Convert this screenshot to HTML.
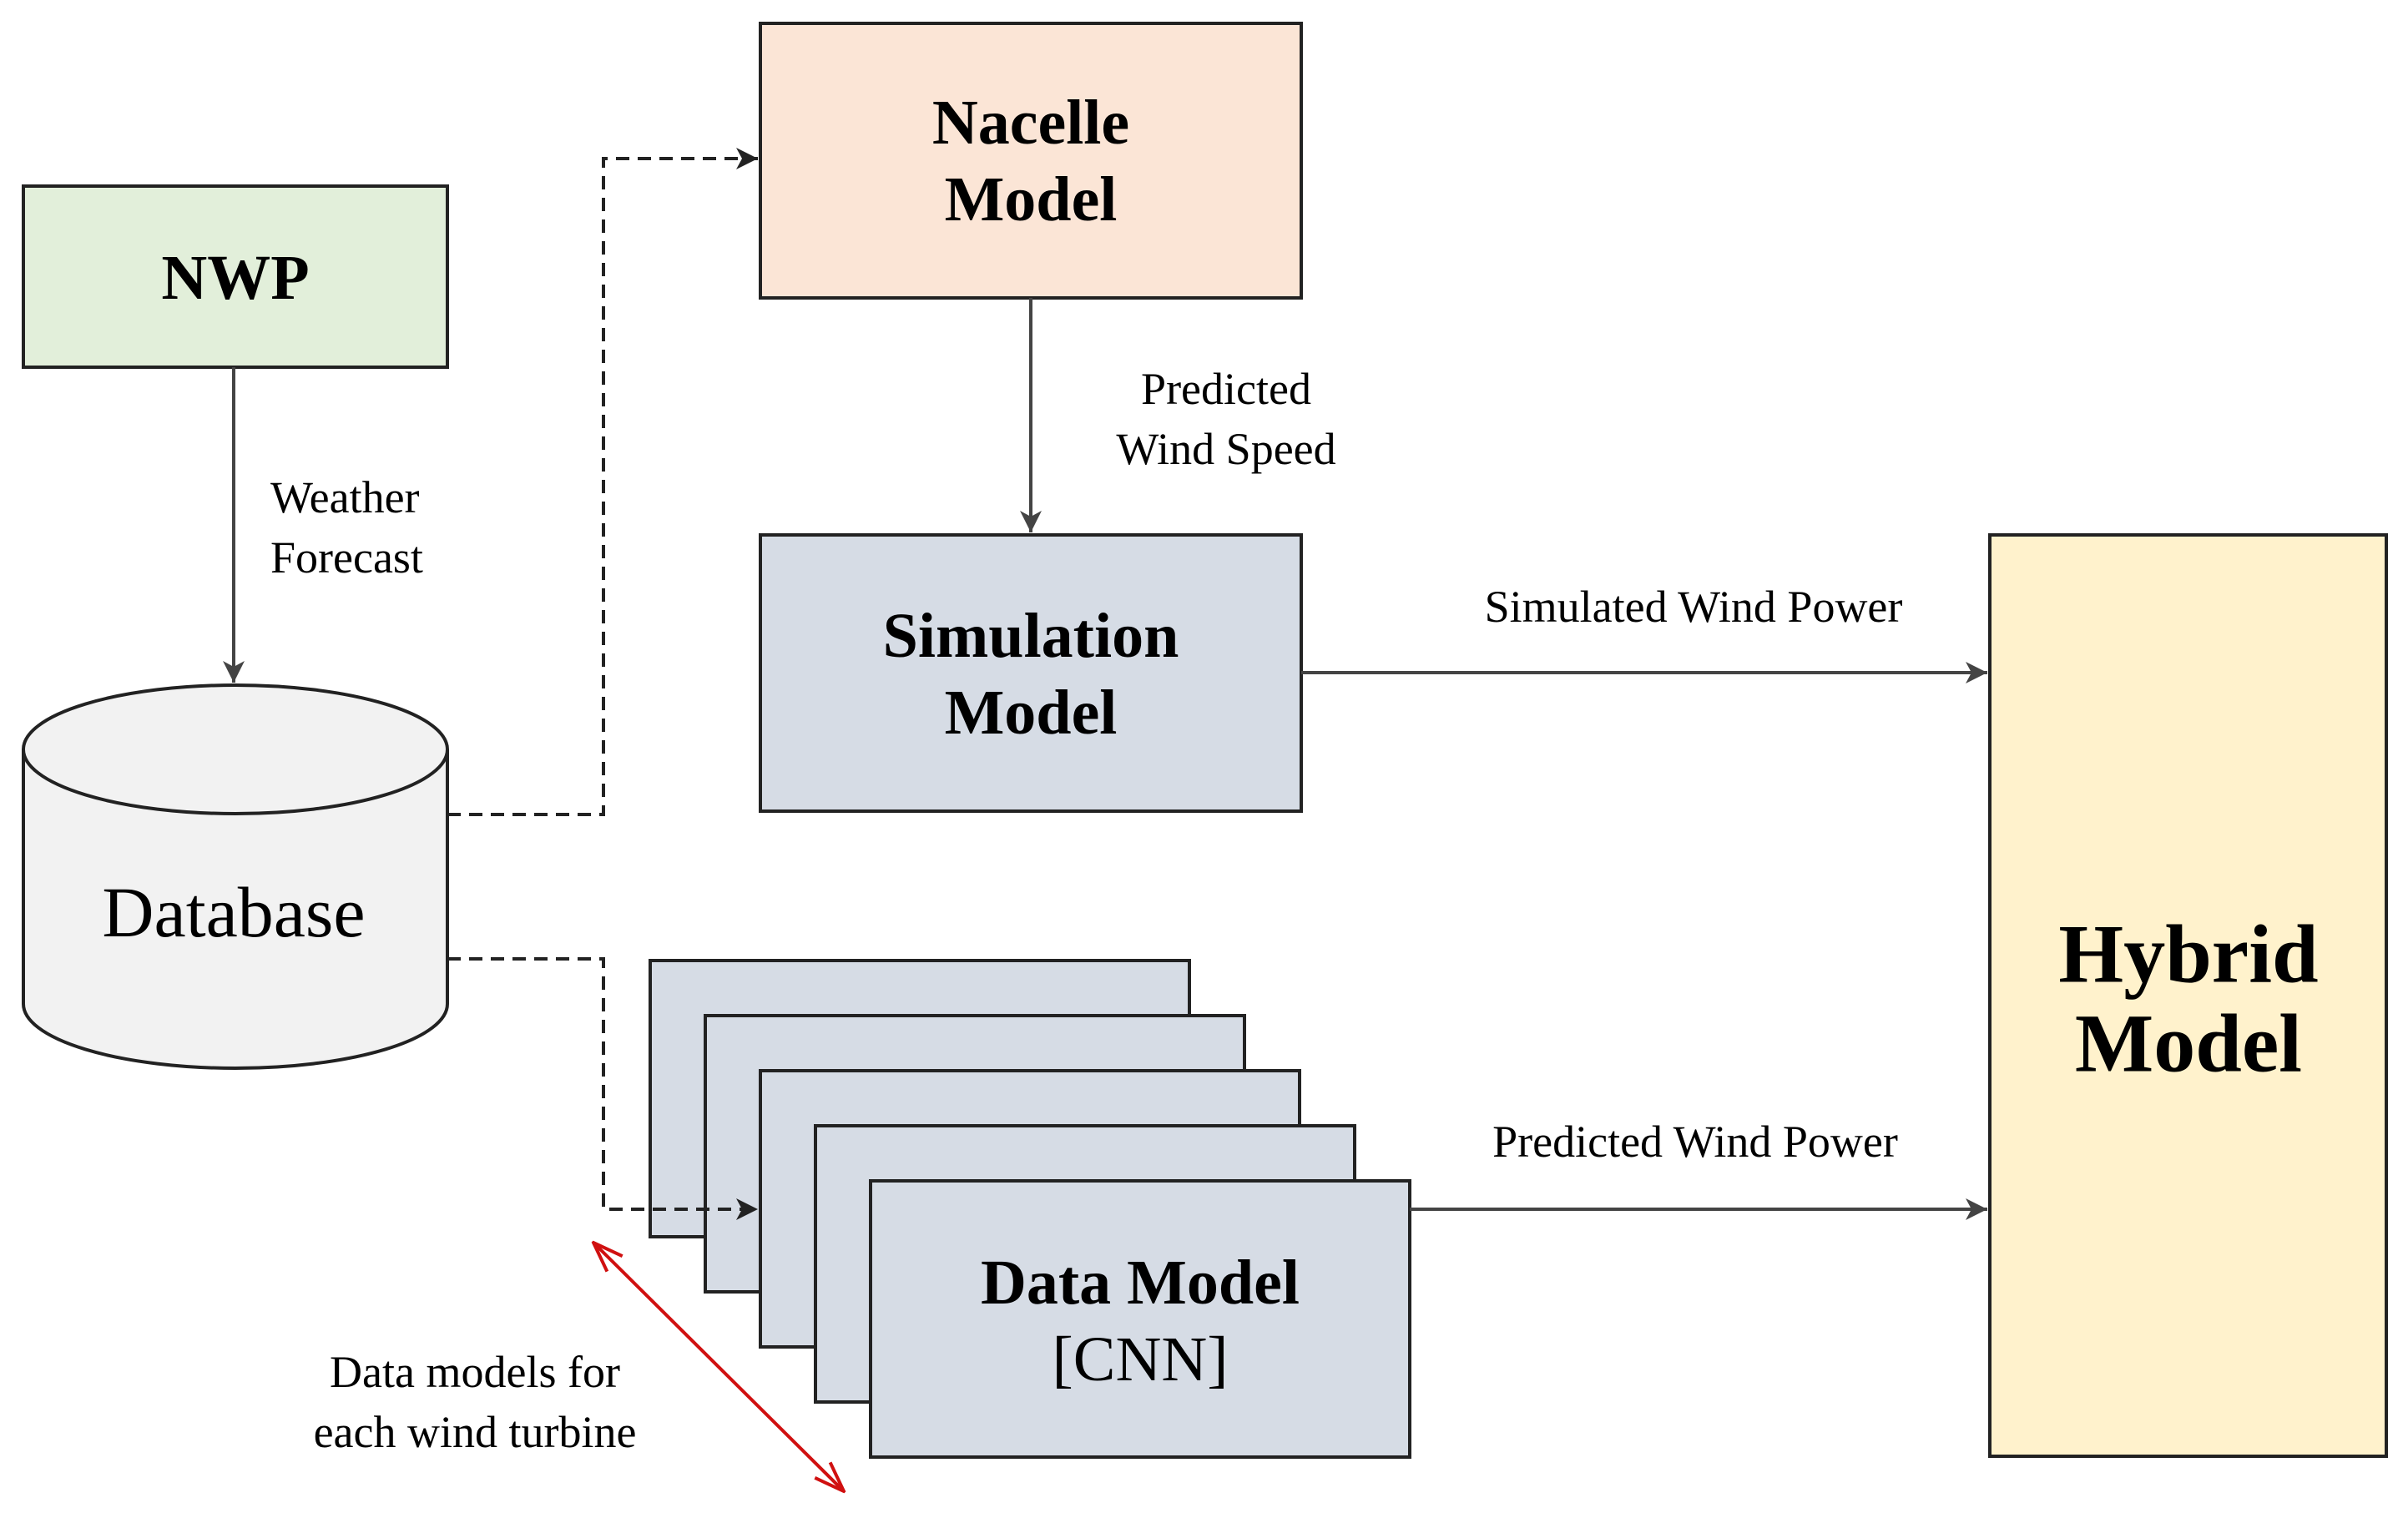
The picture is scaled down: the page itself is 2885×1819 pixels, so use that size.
<!DOCTYPE html>
<html><head><meta charset="utf-8"><style>html,body{margin:0;padding:0;background:#fff}svg{display:block}</style></head>
<body>
<svg width="2885" height="1819" viewBox="0 0 2885 1819" xmlns="http://www.w3.org/2000/svg" font-family="Liberation Serif, serif">
<defs>
<marker id="a" markerWidth="12" markerHeight="12" refX="10" refY="6" orient="auto" markerUnits="userSpaceOnUse" viewBox="0 0 12 12"><path d="M0,0 L12,6 L0,12 L3,6 Z" fill="#444"/></marker>
<marker id="ab" markerWidth="30" markerHeight="30" refX="28" refY="15" orient="auto" markerUnits="userSpaceOnUse"><path d="M2,2 L28,15 L2,28 L9,15 Z" fill="#222"/></marker>
<marker id="ag" markerWidth="30" markerHeight="30" refX="28" refY="15" orient="auto" markerUnits="userSpaceOnUse"><path d="M2,2 L28,15 L2,28 L9,15 Z" fill="#444"/></marker>
<marker id="r" markerWidth="40" markerHeight="30" refX="38" refY="15" orient="auto-start-reverse" markerUnits="userSpaceOnUse"><path d="M2,2 L38,15 L2,28" fill="none" stroke="#d01010" stroke-width="4"/></marker>
</defs>
<g stroke="#222" stroke-width="4">
<rect x="28" y="223" width="508" height="217" fill="#e2efda"/>
<rect x="911" y="28" width="648" height="329" fill="#fbe5d6"/>
<rect x="911" y="641" width="648" height="331" fill="#d6dce5"/>
<rect x="2384" y="641" width="475" height="1104" fill="#fff2cc"/>
<path d="M28,898 L28,1203 A254,77 0 0 0 536,1203 L536,898" fill="#f2f2f2"/>
<ellipse cx="282" cy="898" rx="254" ry="77" fill="#f2f2f2"/>
<rect x="779" y="1151" width="646" height="331" fill="#d6dce5"/>
<rect x="845" y="1217" width="646" height="331" fill="#d6dce5"/>
<rect x="911" y="1283" width="646" height="331" fill="#d6dce5"/>
<rect x="977" y="1349" width="646" height="331" fill="#d6dce5"/>
<rect x="1043" y="1415" width="646" height="331" fill="#d6dce5"/>
</g>
<g fill="none" stroke-width="4">
<path d="M280,440 L280,818" stroke="#444" marker-end="url(#ag)"/>
<path d="M1235,357 L1235,638" stroke="#444" marker-end="url(#ag)"/>
<path d="M1559,806 L2381,806" stroke="#444" marker-end="url(#ag)"/>
<path d="M1689,1449 L2381,1449" stroke="#444" marker-end="url(#ag)"/>
<path d="M536,976 L723,976 L723,190 L908,190" stroke="#222" stroke-dasharray="16,10" marker-end="url(#ab)"/>
<path d="M536,1149 L723,1149 L723,1449 L908,1449" stroke="#222" stroke-dasharray="16,10" marker-end="url(#ab)"/>
<path d="M711,1489 L1011,1787" stroke="#d01010" marker-start="url(#r)" marker-end="url(#r)"/>
</g>
<g fill="#000" text-anchor="middle" dominant-baseline="central">
<text x="282" y="333" font-size="76" font-weight="bold">NWP</text>
<text x="1235" y="147" font-size="76" font-weight="bold">Nacelle</text>
<text x="1235" y="239" font-size="76" font-weight="bold">Model</text>
<text x="1235" y="762" font-size="76" font-weight="bold">Simulation</text>
<text x="1235" y="854" font-size="76" font-weight="bold">Model</text>
<text x="2622" y="1143" font-size="100" font-weight="bold">Hybrid</text>
<text x="2622" y="1250" font-size="100" font-weight="bold">Model</text>
<text x="1366" y="1537" font-size="76" font-weight="bold">Data Model</text>
<text x="1366" y="1629" font-size="76">[CNN]</text>
<text x="280" y="1093" font-size="86">Database</text>
<text x="1469" y="466" font-size="54">Predicted</text>
<text x="1469" y="538" font-size="54">Wind Speed</text>
<text x="2029" y="727" font-size="54">Simulated Wind Power</text>
<text x="2031" y="1368" font-size="54">Predicted Wind Power</text>
<text x="569" y="1644" font-size="54">Data models for</text>
<text x="569" y="1716" font-size="54">each wind turbine</text>
<text x="324" y="596" font-size="54" text-anchor="start">Weather</text>
<text x="324" y="668" font-size="54" text-anchor="start">Forecast</text>
</g>
</svg>
</body></html>
